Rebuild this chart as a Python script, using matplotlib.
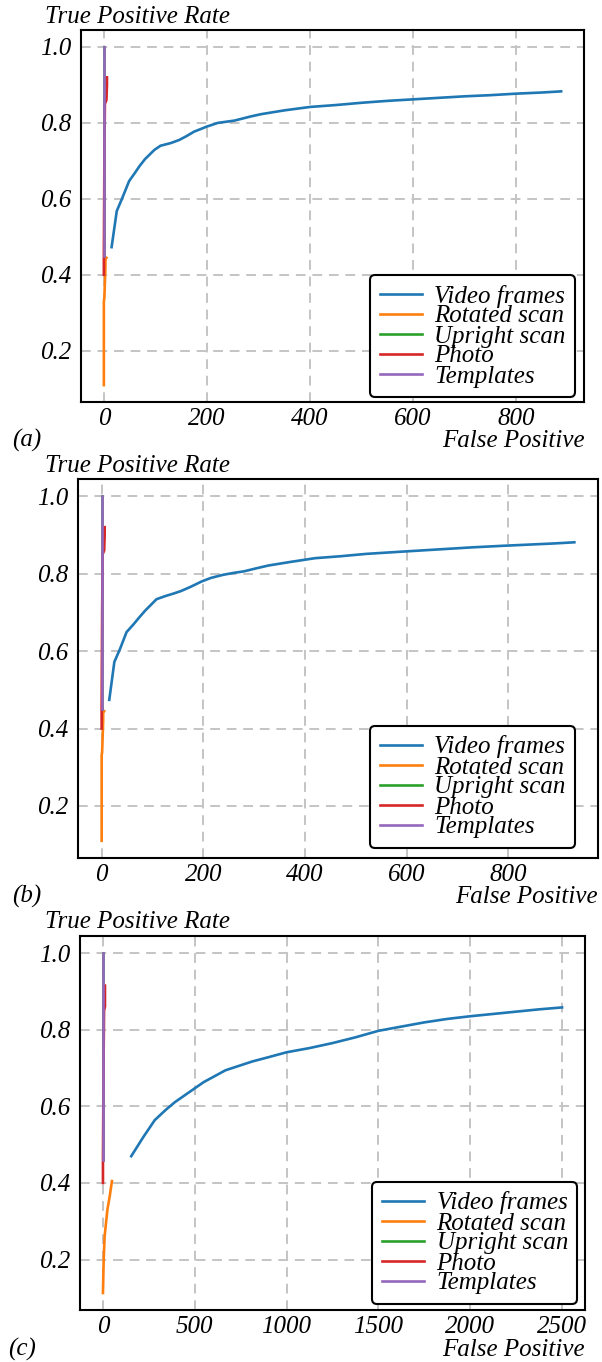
import matplotlib
matplotlib.use("Agg")
import matplotlib.pyplot as plt

W, H = 602, 1362
FONT = "Liberation Serif"

labels = ["Video frames", "Rotated scan", "Upright scan", "Photo", "Templates"]
colors = ["#1f77b4", "#ff7f0e", "#2ca02c", "#d62728", "#9467bd"]

# ---- panel (a) ----
a_video_x = [15, 25, 35, 49, 60, 69, 80, 98, 110, 130, 146, 160, 175, 190, 199, 221, 253, 285, 305, 350,
             400, 450, 500, 550, 600, 650, 700, 750, 800, 850, 887]
a_video_y = [0.473, 0.568, 0.600, 0.647, 0.668, 0.686, 0.705, 0.729, 0.740, 0.747, 0.755, 0.765, 0.777,
             0.785, 0.790, 0.800, 0.806, 0.817, 0.823, 0.833, 0.842, 0.847, 0.853, 0.858, 0.862, 0.866,
             0.870, 0.873, 0.877, 0.880, 0.883]
a_rot_x = [0, 0, 0, 1, 2, 3, 3, 5]
a_rot_y = [0.11, 0.20, 0.33, 0.34, 0.38, 0.42, 0.44, 0.445]
a_up_x = [0, 0, 0]
a_up_y = [0.45, 0.70, 1.0]
a_photo_x = [0, 0, 1, 2, 5, 6, 6]
a_photo_y = [0.40, 0.45, 0.70, 0.85, 0.86, 0.90, 0.92]
a_tmpl_x = [0, 0, 0]
a_tmpl_y = [0.45, 0.70, 1.0]

# ---- panel (b) ----
b_video_x = [15, 25, 36, 49, 62, 74, 86, 108, 125, 140, 156, 175, 197, 215, 239, 260, 280, 305, 328, 370,
             420, 470, 520, 580, 630, 680, 730, 790, 840, 890, 930]
b_video_y = [0.474, 0.572, 0.605, 0.649, 0.668, 0.687, 0.705, 0.734, 0.742, 0.748, 0.755, 0.766, 0.780,
             0.789, 0.797, 0.802, 0.806, 0.814, 0.821, 0.830, 0.840, 0.845, 0.851, 0.856, 0.860, 0.864,
             0.868, 0.872, 0.875, 0.878, 0.881]
b_rot_x = [0, 0, 0, 1, 2, 3, 3, 5]
b_rot_y = [0.11, 0.20, 0.33, 0.34, 0.38, 0.42, 0.44, 0.445]
b_up_x = [0, 0, 0]
b_up_y = [0.45, 0.70, 1.0]
b_photo_x = [0, 0, 1, 2, 5, 6, 6]
b_photo_y = [0.40, 0.45, 0.70, 0.85, 0.86, 0.90, 0.92]
b_tmpl_x = [0, 0, 0]
b_tmpl_y = [0.45, 0.70, 1.0]

# ---- panel (c) ----
c_video_x = [154, 220, 282, 340, 392, 470, 548, 667, 813, 900, 1000, 1125, 1250, 1375, 1500, 1625, 1750,
             1875, 2000, 2125, 2250, 2375, 2500]
c_video_y = [0.470, 0.520, 0.564, 0.590, 0.611, 0.637, 0.663, 0.694, 0.717, 0.728, 0.741, 0.752, 0.765,
             0.780, 0.797, 0.808, 0.819, 0.828, 0.835, 0.841, 0.847, 0.853, 0.858]
c_rot_x = [0, 4, 9, 24, 37, 49]
c_rot_y = [0.113, 0.20, 0.26, 0.33, 0.366, 0.405]
c_up_x = [0, 0, 0]
c_up_y = [0.46, 0.70, 1.0]
c_photo_x = [0, 0, 3, 6, 11, 11]
c_photo_y = [0.40, 0.45, 0.70, 0.85, 0.86, 0.915]
c_tmpl_x = [0, 0, 0]
c_tmpl_y = [0.46, 0.70, 1.0]

panels = [
    dict(tag="(a)", box=(81, 584, 30, 402),
         series=[(a_video_x, a_video_y), (a_rot_x, a_rot_y), (a_up_x, a_up_y), (a_photo_x, a_photo_y), (a_tmpl_x, a_tmpl_y)],
         xticks=[0, 200, 400, 600, 800], leg=(370, 275), ylab=(45, 17), xlab=(585, 441), tagpos=(12, 440)),
    dict(tag="(b)", box=(78, 598, 479, 858),
         series=[(b_video_x, b_video_y), (b_rot_x, b_rot_y), (b_up_x, b_up_y), (b_photo_x, b_photo_y), (b_tmpl_x, b_tmpl_y)],
         xticks=[0, 200, 400, 600, 800], leg=(370, 726), ylab=(45, 466), xlab=(598, 897), tagpos=(12, 896)),
    dict(tag="(c)", box=(80, 585, 936, 1310),
         series=[(c_video_x, c_video_y), (c_rot_x, c_rot_y), (c_up_x, c_up_y), (c_photo_x, c_photo_y), (c_tmpl_x, c_tmpl_y)],
         xticks=[0, 500, 1000, 1500, 2000, 2500], leg=(372, 1182), ylab=(45, 922), xlab=(585, 1350), tagpos=(8, 1349)),
]

yticks = [0.2, 0.4, 0.6, 0.8, 1.0]

fig = plt.figure(figsize=(W / 100, H / 100), dpi=100)
FS = 18

for p in panels:
    l, r, t, b = p["box"]
    ax = fig.add_axes([l / W, 1 - b / H, (r - l) / W, (b - t) / H])
    for (xs, ys), c, lab in zip(p["series"], colors, labels):
        ax.plot(xs, ys, color=c, lw=1.9, label=lab)
    ax.set_xticks(p["xticks"])
    ax.set_yticks(yticks)
    ax.set_xticklabels([str(v) for v in p["xticks"]], fontfamily=FONT, fontstyle="italic", fontsize=FS)
    ax.set_yticklabels([f"{v:.1f}" for v in yticks], fontfamily=FONT, fontstyle="italic", fontsize=FS)
    ax.tick_params(axis="y", length=0, pad=7)
    ax.tick_params(axis="x", length=0, pad=4)
    ax.grid(True, color="#c4c4c4", lw=1.4, ls=(0, (5, 3.5)))
    ax.set_axisbelow(True)
    for s in ax.spines.values():
        s.set_color("black")
        s.set_linewidth(1.5)
    lx, ly = p["leg"]
    leg = ax.legend(loc="upper left", bbox_to_anchor=(lx / W, 1 - ly / H), bbox_transform=fig.transFigure,
                    prop=dict(family=FONT, style="italic", size=FS), frameon=True, fancybox=True,
                    framealpha=1, edgecolor="black", handlelength=1.7, handletextpad=0.5,
                    labelspacing=-0.1, borderpad=0.38, borderaxespad=0)
    leg.get_frame().set_linewidth(1.5)
    fig.text(p["ylab"][0] / W, 1 - p["ylab"][1] / H, "True Positive Rate", fontfamily=FONT,
             fontstyle="italic", fontsize=FS, ha="left", va="center")
    fig.text(p["xlab"][0] / W, 1 - p["xlab"][1] / H, "False Positive", fontfamily=FONT,
             fontstyle="italic", fontsize=FS, ha="right", va="center")
    fig.text(p["tagpos"][0] / W, 1 - p["tagpos"][1] / H, p["tag"], fontfamily=FONT,
             fontstyle="italic", fontsize=FS, ha="left", va="center")

fig.savefig("out.png", dpi=100)
